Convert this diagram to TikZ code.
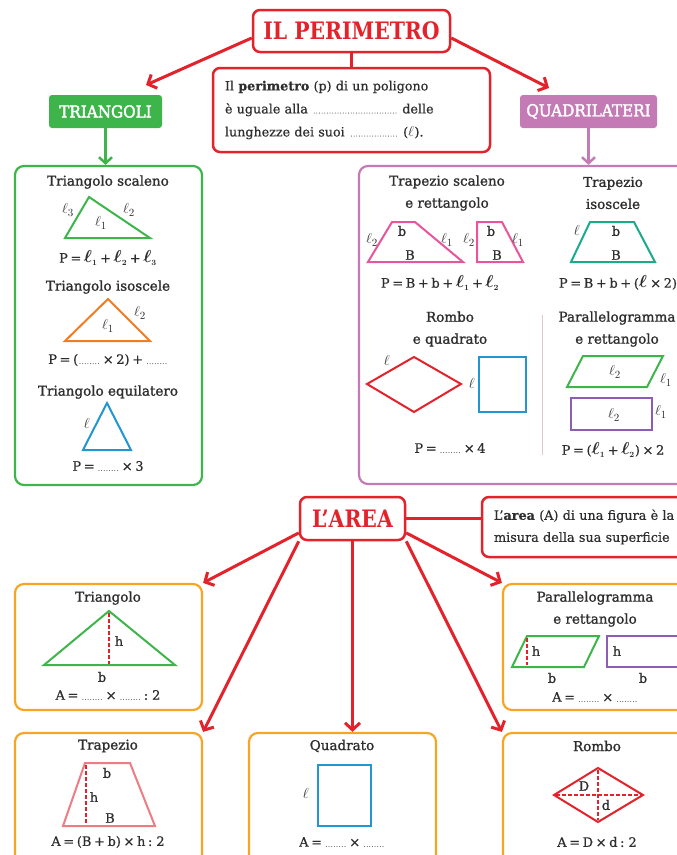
\documentclass[tikz,border=0pt]{standalone}
\usepackage{fontspec}
\setmainfont{DejaVu Serif}[FakeBold=0.6]
\newfontfamily\headfont{DejaVu Serif}[FakeBold=1.4]
\newfontfamily\titlefont{DejaVu Serif}[FakeStretch=0.92,FakeBold=2.2]
\newfontfamily\bigfont{DejaVu Serif}[FakeStretch=0.85]
\usetikzlibrary{arrows.meta}
\definecolor{mapred}{HTML}{E3222B}
\definecolor{trigreen}{HTML}{3DB54A}
\definecolor{quadpurple}{HTML}{C47BB5}
\definecolor{areaorange}{HTML}{F6A623}
\definecolor{shapeblue}{HTML}{2196D3}
\definecolor{shapeorange}{HTML}{F07D22}
\definecolor{shapepink}{HTML}{E9559A}
\definecolor{shapeteal}{HTML}{1BAA8B}
\definecolor{shapeviolet}{HTML}{8C5DB3}
\definecolor{shapesalmon}{HTML}{EE7C82}
\definecolor{textgrey}{HTML}{2E2E2E}
\definecolor{dividergrey}{HTML}{DCC6D6}
\newcommand{\puntini}[1]{{\fontsize{6}{6}\selectfont\color{black!60}\makebox[#1]{\dotfill}}}
\newcommand{\lato}[1][]{{\fontsize{15}{15}\selectfont$\ell_{\scriptstyle #1}$}}
\newcommand{\latob}[1][]{{\fontsize{16}{16}\selectfont\boldmath$\ell_{\scriptscriptstyle #1}$}}
\newcommand{\tightspace}{\spaceskip=0.2em plus 0.05em minus 0.02em\relax}
\begin{document}
\begin{tikzpicture}[x=1pt,y=-1pt,font=\fontsize{13}{15}\selectfont,text=textgrey,
  mapbox/.style={draw=mapred,line width=2.5pt,rounded corners=7pt,fill=white},
  bigtitle/.style={font=\bigfont\bfseries\fontsize{24}{24}\selectfont,text=mapred},
  catbox/.style={rounded corners=3pt,text=white,inner sep=0pt,font=\titlefont\fontsize{16.5}{17}\selectfont},
  framebox/.style={line width=2.2pt,rounded corners=9pt},
  maparrow/.style={draw=mapred,line width=3pt,-{Straight Barb[length=7pt,width=15pt]}},
  mapline/.style={draw=mapred,line width=2.5pt},
  catarrow/.style={line width=2.5pt,-{Straight Barb[length=6pt,width=13pt]}},
  figline/.style={line width=2pt},
  heightline/.style={draw=mapred,line width=1.6pt,dash pattern=on 3.5pt off 2.5pt},
  head/.style={font=\headfont\fontsize{13.5}{22}\selectfont,align=center},
  formula/.style={font=\fontsize{13}{15}\selectfont\tightspace},
  lab/.style={inner sep=0pt}]
  \path[use as bounding box] (0,0) rectangle (677,855);
  \clip (0,0) rectangle (677,855);

  \node[mapbox,bigtitle,minimum width=197pt,minimum height=42pt] (perimetro) at (351.5,31) {IL PERIMETRO};
  \node[mapbox,text width=253pt,inner xsep=12pt,minimum height=84pt,align=left,font=\fontsize{12.7}{23}\selectfont] (perdef) at (351.5,110)
    {Il \textbf{perimetro} (p) di un poligono\\è uguale alla \puntini{86pt} delle\\lunghezze dei suoi \puntini{50pt} (\lato).};
  \node[catbox,fill=trigreen,minimum width=113pt,minimum height=33pt] (triangoli) at (105.5,111.5) {TRIANGOLI};
  \node[catbox,fill=quadpurple,minimum width=137pt,minimum height=33pt] (quadri) at (588.5,111.5) {QUADRILATERI};
  \node[framebox,draw=trigreen,minimum width=187pt,minimum height=319pt] (tribox) at (108.5,325.5) {};
  \node[framebox,draw=quadpurple,minimum width=341pt,minimum height=318pt] (quadbox) at (529.5,325) {};
  \coordinate (tipT) at (146,85);
  \coordinate (tipQ) at (549,88);
  \draw[maparrow] (perimetro.184) -- (tipT);
  \draw[maparrow] (perimetro.-4) -- (tipQ);
  \draw[mapline] (perimetro.south) -- (perdef.north);
  \draw[catarrow,trigreen] (triangoli.south) -- (triangoli.south |- tribox.north);
  \draw[catarrow,quadpurple] (quadri.south) -- (quadri.south |- quadbox.north);

  \node[head] (tsc) at (108,182) {Triangolo scaleno};
  \draw[figline,trigreen] (65,238) -- (89,197) -- (150,238) -- cycle;
  \node[lab] (tsc3) at (68,210) {\lato[3]};
  \node[lab] (tsc2) at (129,210) {\lato[2]};
  \node[lab] (tsc1) at (101,223) {\lato[1]};
  \node[formula] (tscp) at (108,258) {P = \latob[1] + \latob[2] + \latob[3]};
  \node[head] (tis) at (108,287) {Triangolo isoscele};
  \draw[figline,shapeorange] (65,341) -- (108,299) -- (150,341) -- cycle;
  \node[lab] (tis2) at (140,313) {\lato[2]};
  \node[lab] (tis1) at (108,326) {\lato[1]};
  \node[formula] (tisp) at (108,360) {P = (\puntini{22pt} × 2) + \puntini{22pt}};
  \node[head] (teq) at (108,392) {Triangolo equilatero};
  \draw[figline,shapeblue] (83,450) -- (107,403) -- (131,450) -- cycle;
  \node[lab] (teql) at (87,425) {\lato};
  \node[formula] (teqp) at (108,466) {P = \puntini{22pt} × 3};

  \node[head] (qts) at (447,193) {Trapezio scaleno\\e rettangolo};
  \draw[figline,shapepink] (368,262) -- (392,222) -- (415,222) -- (463,262) -- cycle;
  \node[lab] (qts2) at (372,240) {\lato[2]};
  \node[lab] (qtsb) at (402,231) {b};
  \node[lab] (qtsB) at (410,255) {B};
  \node[lab] (qts1) at (447,240) {\lato[1]};
  \draw[figline,shapepink] (477,222) -- (502,222) -- (523,262) -- (477,262) -- cycle;
  \node[lab] (qtr2) at (469,240) {\lato[2]};
  \node[lab] (qtrb) at (491,231) {b};
  \node[lab] (qtrB) at (497,255) {B};
  \node[lab] (qtr1) at (518,240) {\lato[1]};
  \node[formula] (qtsp) at (440,283) {P = B + b + \latob[1] + \latob[2]};
  \node[head] (qti) at (613,193) {Trapezio\\isoscele};
  \draw[figline,shapeteal] (571,262) -- (590,222) -- (634,222) -- (655,262) -- cycle;
  \node[lab] (qtil) at (577,232) {\lato};
  \node[lab] (qtib) at (616,231) {b};
  \node[lab] (qtiB) at (616,255) {B};
  \node[formula] (qtip) at (618,283) {P = B + b + (\latob{} × 2)};
  \node[head] (qrq) at (450,329) {Rombo\\e quadrato};
  \draw[figline,mapred] (367,384) -- (414,357) -- (461,384) -- (414,412) -- cycle;
  \node[lab] (qrl) at (387,362) {\lato};
  \draw[figline,shapeblue] (479,357) rectangle (526,412);
  \node[lab] (qql) at (472,385) {\lato};
  \node[formula] (qrqp) at (450,448) {P = \puntini{22pt} × 4};
  \draw[dividergrey,line width=1pt] (542,315) -- (542,455);
  \node[head] (qpr) at (617,329) {Parallelogramma\\e rettangolo};
  \draw[figline,trigreen] (567,387) -- (583,356) -- (663,356) -- (647,387) -- cycle;
  \node[lab] (qpa2) at (615,372) {\lato[2]};
  \node[lab] (qpa1) at (666,380) {\lato[1]};
  \draw[figline,shapeviolet] (571,398) rectangle (652,430);
  \node[lab] (qre2) at (614,415) {\lato[2]};
  \node[lab] (qre1) at (661,412) {\lato[1]};
  \node[formula] (qprp) at (613,450) {P = (\latob[1] + \latob[2]) × 2};

  \node[mapbox,bigtitle,minimum width=105pt,minimum height=43pt] (area) at (352.5,518.5) {L’AREA};
  \node[mapbox,text width=214pt,inner xsep=12pt,minimum height=60pt,align=left,font=\fontsize{12.8}{22}\selectfont] (areadef) at (601,527)
    {L’\textbf{area} (A) di una figura è la\\misura della sua superficie};
  \node[framebox,draw=areaorange,minimum width=187pt,minimum height=126pt] (atri) at (108.5,647) {};
  \node[framebox,draw=areaorange,minimum width=197pt,minimum height=126pt] (apar) at (601.5,647) {};
  \node[framebox,draw=areaorange,minimum width=187pt,minimum height=140pt] (atrap) at (108.5,803) {};
  \node[framebox,draw=areaorange,minimum width=187pt,minimum height=140pt] (aquad) at (342.5,803) {};
  \node[framebox,draw=areaorange,minimum width=197pt,minimum height=140pt] (arombo) at (601.5,803) {};
  \draw[mapline] (area.east) -- (area.east -| areadef.west);
  \draw[maparrow] (area.195) -- (atri.north east);
  \draw[maparrow] (area.south west) -- (atrap.north east);
  \draw[maparrow] (area.south) -- (area.south |- aquad.north);
  \draw[maparrow] (area.south east) -- (arombo.north west);
  \draw[maparrow] (area.-15) -- (apar.north west);

  \node[head] (atrt) at (108,598) {Triangolo};
  \draw[figline,trigreen] (44,665) -- (109,611) -- (175,665) -- cycle;
  \draw[heightline] (109,613) -- (109,664);
  \node[lab] (atrh) at (119,641) {h};
  \node[lab] (atrb) at (102,677) {b};
  \node[formula] (atrf) at (108,695) {A = \puntini{22pt} × \puntini{22pt} : 2};

  \node[head] (apart) at (595,609) {Parallelogramma\\e rettangolo};
  \draw[figline,trigreen] (512,667) -- (527,636) -- (599,636) -- (584,667) -- cycle;
  \draw[heightline] (527,638) -- (527,665);
  \node[lab] (apah) at (536,651) {h};
  \node[lab] (apab) at (552,678) {b};
  \draw[figline,shapeviolet] (607,636) rectangle (700,667);
  \node[lab] (apreh) at (617,651) {h};
  \node[lab] (apreb) at (643,678) {b};
  \node[formula] (apf) at (595,697) {A = \puntini{22pt} × \puntini{22pt}};

  \node[head] (atrapt) at (108,746) {Trapezio};
  \draw[figline,shapesalmon] (63,826) -- (85,763) -- (130,763) -- (155,826) -- cycle;
  \draw[heightline] (86,765) -- (86,824);
  \node[lab] (atrapb) at (107,773) {b};
  \node[lab] (atraph) at (94,797) {h};
  \node[lab] (atrapB) at (110,818) {B};
  \node[formula] (atrapf) at (108,842) {A = (B + b) × h : 2};

  \node[head] (aquadt) at (342,746) {Quadrato};
  \draw[figline,shapeblue] (318,765) rectangle (371,826);
  \node[lab] (aquadl) at (306,795) {\lato};
  \node[formula] (aquadf) at (342,842) {A = \puntini{22pt} × \puntini{22pt}};

  \node[head] (arombot) at (597,746) {Rombo};
  \draw[figline,mapred] (554,795) -- (598,768) -- (643,795) -- (598,822) -- cycle;
  \draw[heightline] (556,795) -- (641,795);
  \draw[heightline] (598,770) -- (598,820);
  \node[lab] (aromboD) at (584,786) {D};
  \node[lab] (arombod) at (606,805) {d};
  \node[formula] (arombof) at (597,842) {A = D × d : 2};
\end{tikzpicture}
\end{document}
